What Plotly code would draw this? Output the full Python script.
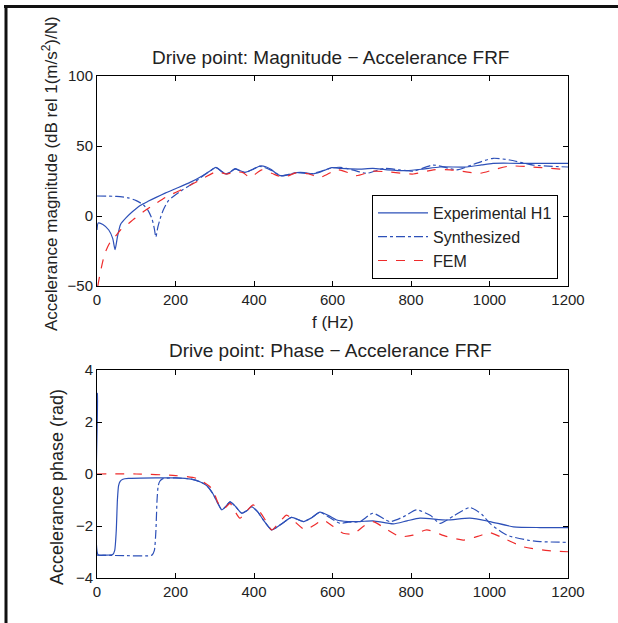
import plotly.graph_objects as go

W, H = 618, 623

# ---------------- data: magnitude (dB) ----------------
mag_exp_f = [0, 3, 15, 30, 40, 46, 52, 60, 75, 90, 110, 130, 152, 175, 200, 237, 270, 290,
             303, 316, 329, 340, 352, 364, 377, 395, 415, 430, 445, 458, 470, 490, 509, 528,
             547, 570, 598, 620, 645, 670, 703, 740, 789, 830, 874, 942, 980, 1009, 1100, 1200]
mag_exp_v = [-10, -5, -6, -10, -16, -24, -15, -6, -1, 3, 7.5, 10.5, 13.5, 16.5, 19.5, 24, 29, 32.5,
             34.8, 32, 30, 31.5, 33.8, 32.5, 31.2, 33, 35.7, 35.2, 33, 30, 28.6, 29.5, 31, 31,
             30, 31.5, 34.5, 34, 33.6, 33.5, 34, 33, 32.4, 33.5, 35, 35, 36.5, 37.6, 37.6, 37.6]

mag_syn_f = [0, 50, 80, 100, 118, 130, 140, 146, 150, 155, 162, 170, 182, 211, 240, 270, 303,
             329, 352, 377, 415, 445, 470, 509, 547, 598, 619, 650, 687, 732, 770, 806, 857,
             917, 960, 1009, 1052, 1111, 1200]
mag_syn_v = [14.3, 14, 13, 11, 8, 4, -2, -9, -15, -8, -1, 5, 11, 17.4, 22.5, 28.5, 34.5,
             30, 33.5, 31, 35.5, 32.5, 28.8, 31, 30.2, 34.3, 34.8, 33, 30.5, 34, 33, 32, 36.4,
             33, 37, 41.2, 40, 36.4, 35]

mag_fem_f = [2, 8, 20, 33, 46, 60, 76, 95, 118, 150, 177, 210, 237, 271, 305, 329, 355, 372,
             390, 420, 445, 475, 509, 540, 569, 611, 640, 661, 703, 746, 806, 857, 900, 940,
             976, 1010, 1052, 1111, 1200]
mag_fem_v = [-50, -41, -26.7, -19, -14.8, -10, -6.4, -2, 3, 9, 13.8, 18, 22, 27, 31.7, 30, 31.7, 31,
             27.6, 33, 30.5, 27.6, 31, 30, 27.6, 33, 31, 28.8, 32, 31.4, 30, 33, 33, 31.5,
             30.5, 33, 35.7, 35, 33]

# ---------------- data: phase (rad) ----------------
ph_exp_f = [0, 1, 2.5, 20, 40, 45, 49, 52, 55, 59, 66, 80, 150, 200, 240, 262, 280, 295, 307,
            318, 328, 339, 353, 369, 381, 394, 409, 424, 445, 458, 472, 496, 526, 547, 568,
            590, 611, 640, 670, 703, 755, 790, 823, 891, 950, 1001, 1061, 1129, 1200]
ph_exp_v = [3.1, 3.1, -3.1, -3.12, -3.1, -2.95, -2.2, -1.0, -0.45, -0.28, -0.2, -0.17, -0.15, -0.15,
            -0.2, -0.3, -0.45, -0.75, -1.1, -1.38, -1.25, -1.07, -1.25, -1.51, -1.42, -1.26, -1.45,
            -1.77, -2.15, -2.05, -1.9, -1.67, -1.83, -1.68, -1.47, -1.6, -1.77, -1.83, -1.83, -1.8,
            -1.92, -1.8, -1.7, -1.77, -1.7, -1.83, -2.03, -2.06, -2.06]

ph_syn_f = [0, 70, 140, 146, 150, 153, 156, 160, 168, 200, 240, 262, 280, 295, 307, 318, 328,
            339, 353, 369, 381, 394, 409, 424, 445, 458, 472, 496, 526, 547, 568, 590, 619,
            640, 670, 703, 746, 780, 814, 850, 874, 910, 950, 980, 1001, 1044, 1100, 1129, 1200]
ph_syn_v = [-3.12, -3.14, -3.12, -2.95, -2.2, -1.0, -0.45, -0.28, -0.18, -0.15, -0.2, -0.3, -0.45,
            -0.75, -1.1, -1.38, -1.25, -1.07, -1.25, -1.51, -1.42, -1.26, -1.45, -1.77, -2.15, -2.05,
            -1.9, -1.67, -1.83, -1.68, -1.47, -1.65, -1.9, -1.85, -1.83, -1.51, -1.83, -1.65, -1.38,
            -1.6, -1.9, -1.6, -1.29, -1.55, -1.9, -2.35, -2.55, -2.6, -2.63]

ph_fem_f = [0, 100, 200, 254, 288, 300, 309, 318, 328, 339, 352, 364, 380, 398, 415, 430, 445,
            465, 483, 505, 530, 555, 576, 600, 627, 653, 680, 703, 740, 772, 805, 840, 890,
            933, 970, 1001, 1040, 1086, 1150, 1200]
ph_fem_v = [0, 0, -0.06, -0.17, -0.49, -0.8, -1.13, -1.33, -1.28, -1.13, -1.45, -1.7, -1.45, -1.19,
            -1.45, -1.8, -2.15, -1.85, -1.58, -1.85, -2.15, -1.95, -1.77, -2.0, -2.28, -2.3, -2.0,
            -1.83, -2.15, -2.41, -2.35, -2.15, -2.4, -2.54, -2.4, -2.26, -2.5, -2.8, -2.95, -2.99]

x_ticks = [0, 200, 400, 600, 800, 1000, 1200]
mag_ticks = [-50, 0, 50, 100]
ph_ticks = [-4, -2, 0, 2, 4]

BLUE = "#2d50b8"
RED = "#ee2b2b"
TXT = "#222222"
FONT = "Liberation Sans, Arial, sans-serif"

fig = go.Figure()

def add(fx, fy, name, color, dash, yaxis, show):
    fig.add_trace(go.Scatter(
        x=fx, y=fy, name=name, mode="lines", yaxis=yaxis, xaxis="x" if yaxis == "y" else "x2",
        line=dict(color=color, width=1.2, dash=dash, shape="spline", smoothing=0.6),
        showlegend=show))

add(mag_exp_f, mag_exp_v, "Experimental H1", BLUE, "solid", "y", True)
add(mag_syn_f, mag_syn_v, "Synthesized", BLUE, "dashdot", "y", True)
add(mag_fem_f, mag_fem_v, "FEM", RED, "dash", "y", True)
add(ph_exp_f, ph_exp_v, "Experimental H1", BLUE, "solid", "y2", False)
add(ph_syn_f, ph_syn_v, "Synthesized", BLUE, "dashdot", "y2", False)
add(ph_fem_f, ph_fem_v, "FEM", RED, "dash", "y2", False)

xd = [97 / W, 568 / W]
axis_common = dict(showline=True, linecolor="black", linewidth=1, mirror="ticks",
                   ticks="inside", ticklen=5, tickcolor="black", showgrid=False, zeroline=False,
                   automargin=False, tickfont=dict(size=15, color=TXT, family=FONT))

fig.update_layout(
    width=W, height=H, margin=dict(l=0, r=0, t=0, b=0, autoexpand=False),
    paper_bgcolor="white", plot_bgcolor="white",
    font=dict(family=FONT, color=TXT),
    xaxis=dict(domain=xd, range=[0, 1200], tickvals=x_ticks, anchor="y", **axis_common),
    yaxis=dict(domain=[1 - 286 / H, 1 - 76 / H], range=[-50, 100], tickvals=mag_ticks,
               anchor="x", **axis_common),
    xaxis2=dict(domain=xd, range=[0, 1200], tickvals=x_ticks, anchor="y2", **axis_common),
    yaxis2=dict(domain=[1 - 578 / H, 1 - 370 / H], range=[-4, 4], tickvals=ph_ticks,
                anchor="x2", **axis_common),
    legend=dict(x=558 / W, xanchor="right", y=1 - 195 / H, yanchor="top",
                bgcolor="white", bordercolor="black", borderwidth=1, itemwidth=50,
                font=dict(size=16, color=TXT, family=FONT), tracegroupgap=0),
    shapes=[
        dict(type="line", xref="paper", yref="paper", x0=4 / W, x1=1, y0=1 - 6.5 / H, y1=1 - 6.5 / H,
             line=dict(color="#111111", width=3)),
        dict(type="line", xref="paper", yref="paper", x0=6 / W, x1=6 / W, y0=0, y1=1 - 5 / H,
             line=dict(color="#111111", width=3)),
    ],
    annotations=[
        dict(text="Drive point: Magnitude \u2212 Accelerance FRF", xref="paper", yref="paper",
             x=330 / W, y=1 - 58 / H, xanchor="center", yanchor="middle", showarrow=False,
             font=dict(size=19, color=TXT)),
        dict(text="Drive point: Phase \u2212 Accelerance FRF", xref="paper", yref="paper",
             x=330 / W, y=1 - 350 / H, xanchor="center", yanchor="middle", showarrow=False,
             font=dict(size=19, color=TXT)),
        dict(text="f (Hz)", xref="paper", yref="paper",
             x=332.5 / W, y=1 - 322 / H, xanchor="center", yanchor="middle", showarrow=False,
             font=dict(size=17, color=TXT)),
        dict(text="Accelerance magnitude (dB rel 1(m/s<sup>2</sup>)/N)", xref="paper", yref="paper",
             x=50 / W, y=1 - 174 / H, xanchor="center", yanchor="middle", textangle=-90,
             showarrow=False, font=dict(size=17, color=TXT)),
        dict(text="Accelerance phase (rad)", xref="paper", yref="paper",
             x=57 / W, y=1 - 487 / H, xanchor="center", yanchor="middle", textangle=-90,
             showarrow=False, font=dict(size=18, color=TXT)),
    ],
)

fig.write_html("out.html", config={"displayModeBar": False},
               post_script="document.body.style.margin='0';document.body.style.overflow='hidden';"
                           "document.documentElement.style.overflow='hidden';"
                           "document.documentElement.style.scrollbarWidth='none';")
